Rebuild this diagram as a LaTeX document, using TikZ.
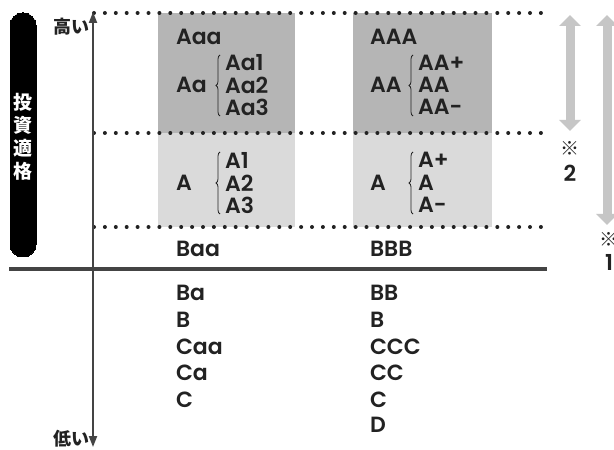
\documentclass[tikz,border=0pt]{standalone}
\usepackage{fontspec}
\setmainfont{Poppins SemiBold}
\newfontfamily\jpfont{Noto Sans CJK JP}
\usetikzlibrary{arrows.meta,decorations.pathreplacing}
\definecolor{txt}{HTML}{222222}
\definecolor{darkbox}{HTML}{B5B5B5}
\definecolor{lightbox}{HTML}{DADADA}
\definecolor{arrgray}{HTML}{C6C6C6}
\definecolor{axisgray}{HTML}{444444}
\newcommand{\ratingfont}{\fontsize{22bp}{24bp}\selectfont}
\tikzset{
  lbl/.style={anchor=west,inner sep=0pt,outer sep=0pt,text=txt,font=\ratingfont},
  dotline/.style={line width=4bp,line cap=round,dash pattern=on 0bp off 10.9bp,draw=txt},
  bracestyle/.style={decorate,decoration={brace,amplitude=4bp},line width=0.8bp,draw=txt},
  grayarrow/.style={line width=9bp,draw=arrgray,{Triangle[length=11bp,width=21bp]}-{Triangle[length=11bp,width=21bp]}},
  axisline/.style={line width=2bp,draw=axisgray,-{Triangle[length=11bp,width=8bp]}},
  jplbl/.style={inner sep=0pt,outer sep=0pt,text=txt,font=\jpfont\bfseries\fontsize{18bp}{19bp}\selectfont},
  note/.style={inner sep=0pt,outer sep=0pt,text=txt,font=\fontsize{22bp}{22bp}\selectfont}
}
\begin{document}
\begin{tikzpicture}[x=1bp,y=-1bp]
\useasboundingbox[fill=white] (0,0) rectangle (614,450);
% shaded boxes
\fill[darkbox] (158,13) rectangle (295,133);
\fill[lightbox] (158,133) rectangle (295,227);
\fill[darkbox] (353,13) rectangle (492,133);
\fill[lightbox] (353,133) rectangle (492,227);
% dotted lines
\coordinate (d1a) at (94,13); \coordinate (d1b) at (548,13);
\coordinate (d2a) at (94,133); \coordinate (d2b) at (548,133);
\coordinate (d3a) at (94,227); \coordinate (d3b) at (548,227);
\draw[dotline] (d1a) -- (d1b);
\draw[dotline] (d2a) -- (d2b);
\draw[dotline] (d3a) -- (d3b);
% horizontal solid line
\coordinate (hl1) at (9,269); \coordinate (hl2) at (547,269);
\draw[line width=3.4bp,draw=axisgray] (hl1) -- (hl2);
% vertical axis
\coordinate (axmid) at (93,180);
\coordinate (axtop) at (93,12);
\coordinate (axbot) at (93,447);
\draw[axisline] (axmid) -- (axtop);
\draw[axisline] (axmid) -- (axbot);
\node[jplbl,anchor=east] (high) at (89,27) {高い};
\node[jplbl,anchor=east] (low) at (89,439) {低い};
% black pill
\draw[fill=black,draw=black,line width=0pt,rounded corners=12.5bp] (10,13) rectangle (36,257);
\node[inner sep=0pt,text=white,font=\jpfont\bfseries\fontsize{19bp}{23bp}\selectfont,align=center] (invest) at (23,137) {投\\資\\適\\格};
% left column
\node[lbl] (aaa) at (176,37) {Aaa};
\node[lbl] (aa) at (176,85) {Aa};
\node[lbl] (aa1) at (225,63) {Aa1};
\node[lbl] (aa2) at (225,85) {Aa2};
\node[lbl] (aa3) at (225,107) {Aa3};
\coordinate (bra1t) at (220,55); \coordinate (bra1b) at (220,116);
\draw[bracestyle] (bra1b) -- (bra1t);
\node[lbl] (a) at (176,183) {A};
\node[lbl] (a1) at (225,160) {A1};
\node[lbl] (a2) at (225,183) {A2};
\node[lbl] (a3) at (225,205) {A3};
\coordinate (bra2t) at (220,152); \coordinate (bra2b) at (220,214);
\draw[bracestyle] (bra2b) -- (bra2t);
\node[lbl] (baa) at (176,249) {Baa};
\node[lbl] (ba) at (176,293) {Ba};
\node[lbl] (b) at (176,320) {B};
\node[lbl] (caa) at (176,347) {Caa};
\node[lbl] (ca) at (176,373) {Ca};
\node[lbl] (c) at (176,400) {C};
% right column
\node[lbl] (AAA) at (370,37) {AAA};
\node[lbl] (AA) at (370,85) {AA};
\node[lbl] (AAp) at (418,63) {AA+};
\node[lbl] (AAm) at (418,85) {AA};
\node[lbl] (AAn) at (418,107) {AA\textminus};
\coordinate (bra3t) at (413,55); \coordinate (bra3b) at (413,116);
\draw[bracestyle] (bra3b) -- (bra3t);
\node[lbl] (Ar) at (370,183) {A};
\node[lbl] (Ap) at (418,160) {A+};
\node[lbl] (Am) at (418,183) {A};
\node[lbl] (An) at (418,205) {A\textminus};
\coordinate (bra4t) at (413,152); \coordinate (bra4b) at (413,214);
\draw[bracestyle] (bra4b) -- (bra4t);
\node[lbl] (BBB) at (370,249) {BBB};
\node[lbl] (BB) at (370,293) {BB};
\node[lbl] (Br) at (370,320) {B};
\node[lbl] (CCC) at (370,347) {CCC};
\node[lbl] (CC) at (370,373) {CC};
\node[lbl] (Cr) at (370,400) {C};
\node[lbl] (D) at (370,425) {D};
% gray arrows
\coordinate (g2t) at (570,15); \coordinate (g2b) at (570,131);
\draw[grayarrow] (g2t) -- (g2b);
\coordinate (g1t) at (607,15); \coordinate (g1b) at (607,225);
\draw[grayarrow] (g1t) -- (g1b);
\node[jplbl,font=\jpfont\fontsize{19bp}{20bp}\selectfont] (n2a) at (570,148) {※};
\node[note] (n2b) at (570,173) {2};
\node[jplbl,font=\jpfont\fontsize{19bp}{20bp}\selectfont] (n1a) at (609,239) {※};
\node[note] (n1b) at (609,262) {1};
\end{tikzpicture}
\end{document}
